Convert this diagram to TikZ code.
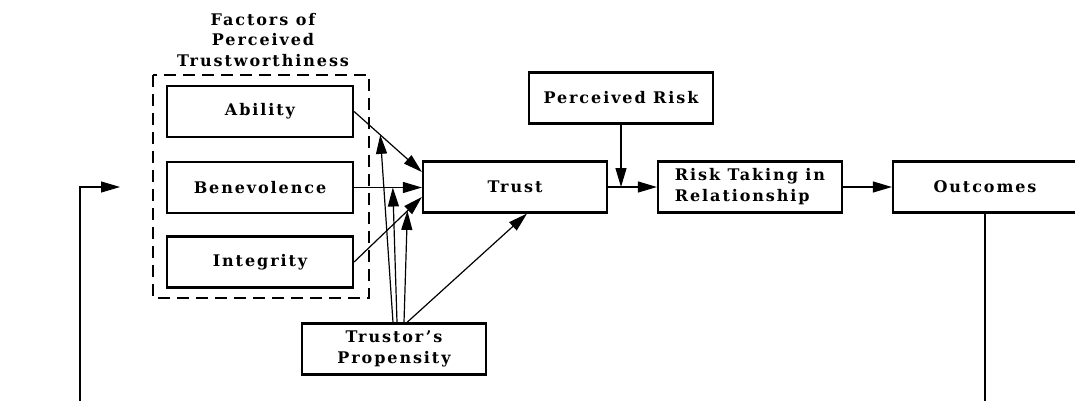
\documentclass[tikz,border=0pt]{standalone}
\usepackage{fontspec}
\setmainfont{DejaVu Serif}[LetterSpace=12]
\usetikzlibrary{arrows.meta}

\tikzset{
  lbl/.style={font=\fontsize{16}{21}\selectfont\bfseries},
  box/.style={draw, line width=2.2pt, minimum width=184pt, minimum height=51pt,
              inner sep=0pt, lbl, align=center},
  arr/.style={line width=1.2pt, -{Triangle[length=19pt,width=11pt]}},
  group/.style={draw, line width=2.2pt, dash pattern=on 12pt off 7pt},
}

\begin{document}
\begin{tikzpicture}[x=1pt, y=-1pt]
  \clip (0,0) rectangle (1075,401);
  \fill[white] (0,0) rectangle (1075,401);

  % group of trustworthiness factors
  \node[lbl, align=center, font=\fontsize{16}{20.5}\selectfont\bfseries] (title) at (263,40)
    {Factors of\\Perceived\\Trustworthiness};
  \draw[group] (153,75) rectangle (369,298);

  \node[box, minimum width=186pt] (ability) at (260,111.5) {Ability};
  \node[box, minimum width=186pt] (benev)   at (260,187.5) {Benevolence};
  \node[box, minimum width=186pt] (integ)   at (260,262)   {Integrity};

  % main chain
  \node[box] (trust)   at (515,187) {Trust};
  \node[box] (prisk)   at (621,98)  {Perceived Risk};
  \node[box, align=left] (rtaking) at (750,187) {Risk Taking in\\Relationship};
  \node[box] (outc)    at (985,187) {Outcomes};
  \node[box] (prop)    at (394,349) {Trustor's\\Propensity};

  % factors into trust
  \draw[arr] (ability.east) -- ([yshift=15pt]trust.west)
    coordinate[pos=0.386] (mA);
  \draw[arr] (benev.east) -- (trust.west |- benev.east)
    coordinate[pos=0.571] (mB);
  \draw[arr] (integ.east) -- ([yshift=-10pt]trust.west)
    coordinate[pos=0.786] (mI);

  % propensity moderating each factor link and feeding trust
  \draw[arr] ([xshift=-1pt]prop.north) -- (mA);
  \draw[arr] ([xshift=3pt]prop.north)  -- (mB);
  \draw[arr] ([xshift=10pt]prop.north) -- (mI);
  \draw[arr] ([xshift=13pt]prop.north) -- ([xshift=12pt]trust.south);

  % trust to risk taking, moderated by perceived risk
  \draw[arr] (trust.east) -- (rtaking.west);
  \draw[arr] (prisk.south) -- (prisk.south |- trust.east);
  \draw[arr] (rtaking.east) -- (outc.west);

  % feedback loop from outcomes
  \coordinate (fbR) at (985,410);
  \coordinate (fbL) at (80,410);
  \coordinate (fbEnd) at (120,187);
  \draw[arr] (outc.south) -- (fbR) -- (fbL) |- (fbEnd);
\end{tikzpicture}
\end{document}
